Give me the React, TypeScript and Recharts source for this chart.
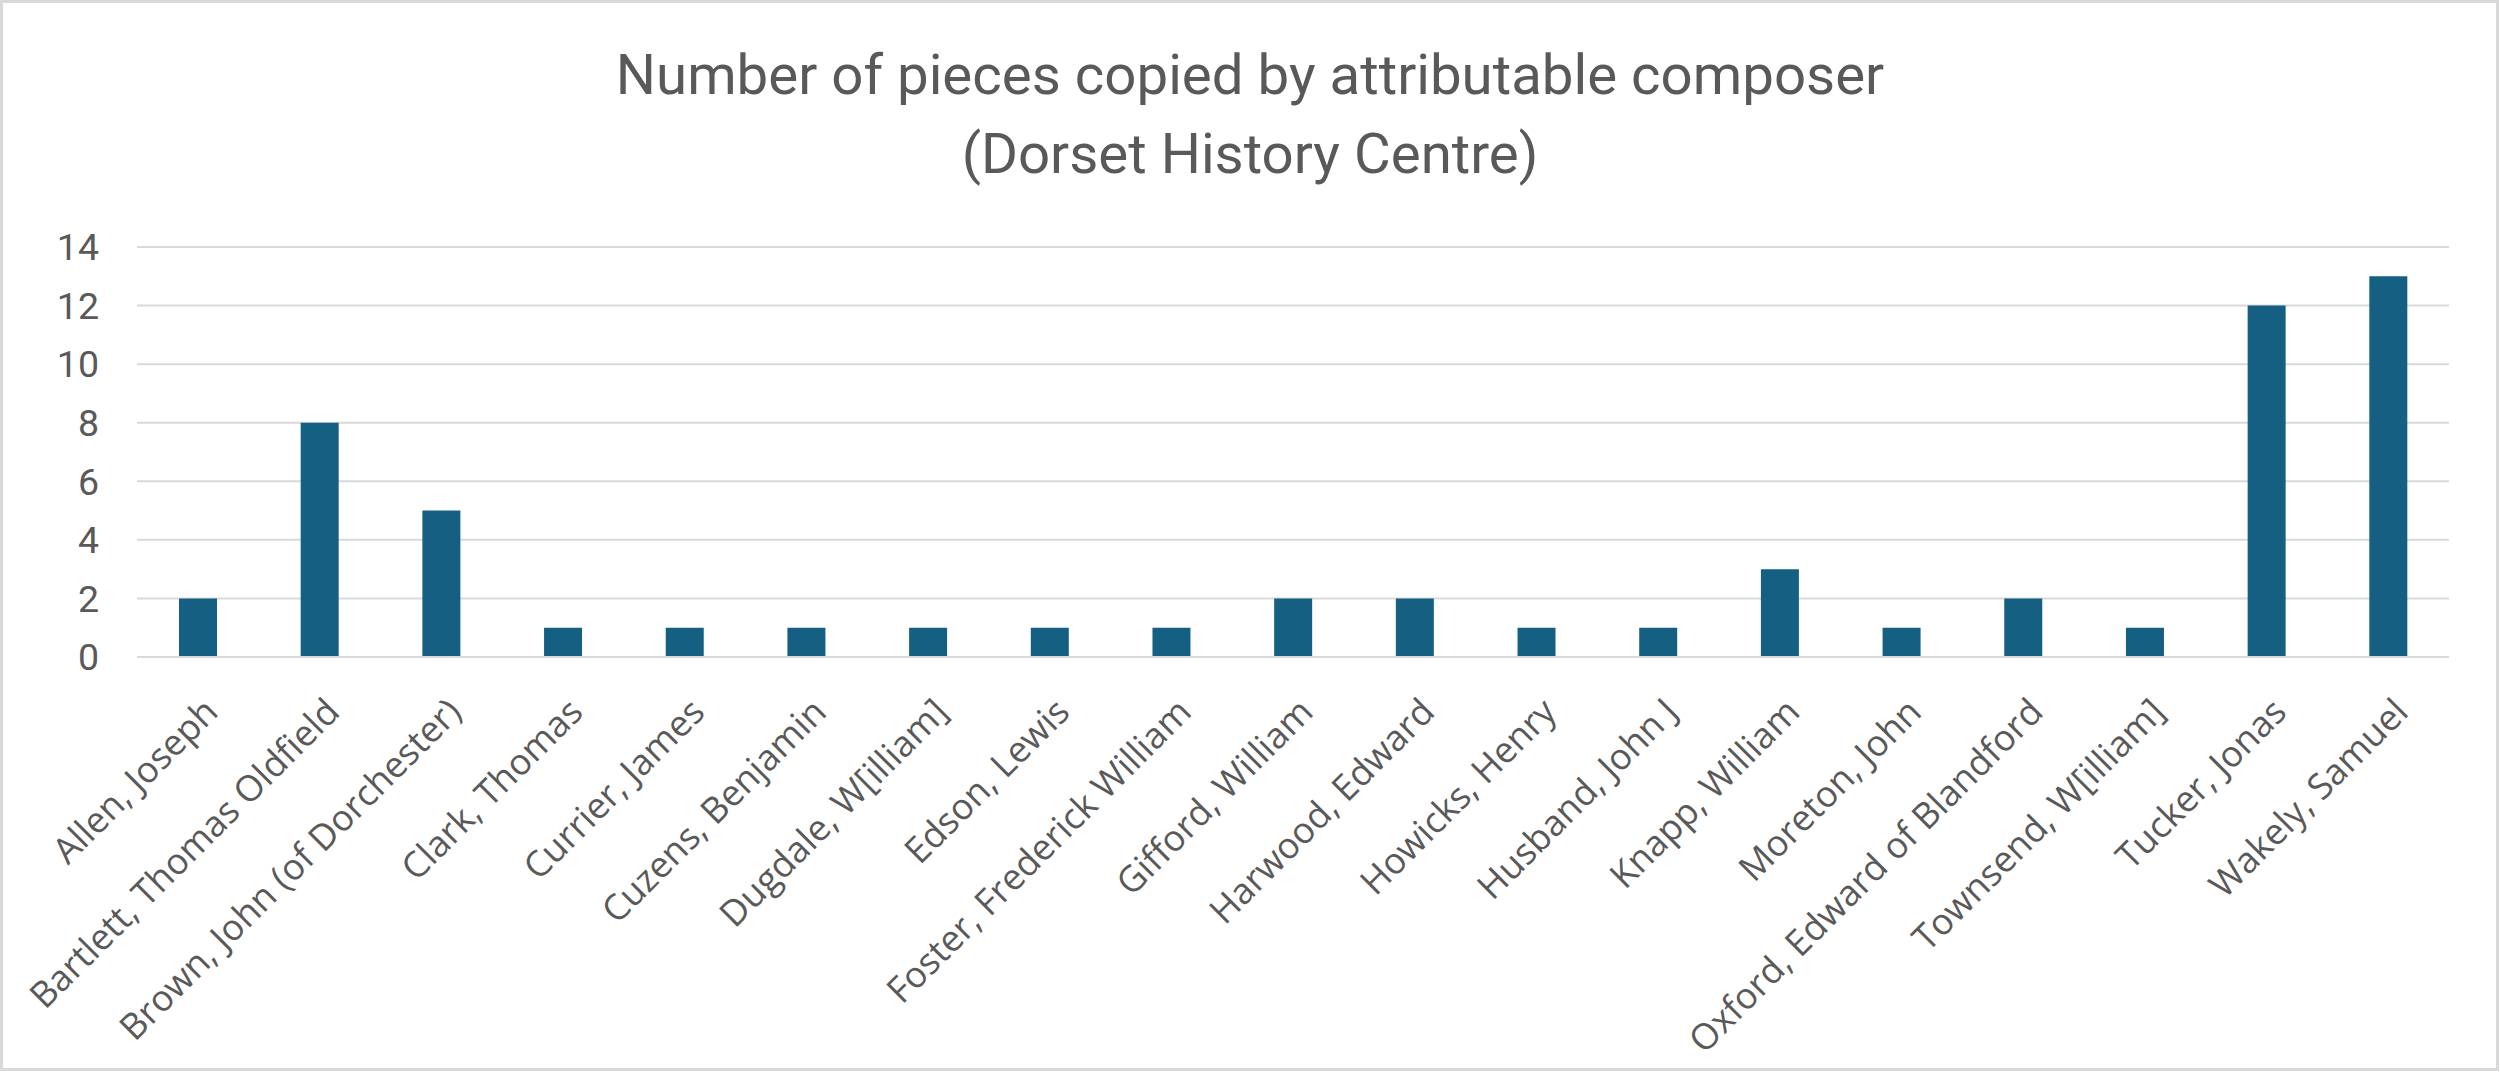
import React from "react";
import { BarChart, Bar, XAxis, YAxis, CartesianGrid } from "recharts";

const composers: string[] = [
  "Allen, Joseph",
  "Bartlett, Thomas Oldfield",
  "Brown, John (of Dorchester)",
  "Clark, Thomas",
  "Currier, James",
  "Cuzens, Benjamin",
  "Dugdale, W[illiam]",
  "Edson, Lewis",
  "Foster, Frederick William",
  "Gifford, William",
  "Harwood, Edward",
  "Howicks, Henry",
  "Husband, John J",
  "Knapp, William",
  "Moreton, John",
  "Oxford, Edward of Blandford",
  "Townsend, W[illiam]",
  "Tucker, Jonas",
  "Wakely, Samuel",
];

const pieces: number[] = [2, 8, 5, 1, 1, 1, 1, 1, 1, 2, 2, 1, 1, 3, 1, 2, 1, 12, 13];

const yTicks: number[] = [0, 2, 4, 6, 8, 10, 12, 14];

const titleLines: string[] = [
  "Number of pieces copied by attributable composer",
  "(Dorset History Centre)",
];

const data = composers.map((name, i) => ({ name, value: pieces[i] }));

const TEXT = "#595959";
const GRID = "#d9d9d9";
const BAR = "#156082";

const XTick = (props: any) => {
  const { x, y, payload } = props;
  const ax = x + 22;
  const ay = y + 49;
  return (
    <text
      x={ax}
      y={ay}
      transform={`rotate(-45, ${ax}, ${ay})`}
      textAnchor="end"
      fill={TEXT}
      fontFamily="'Open Sans', sans-serif"
      fontSize={36}
    >
      {payload.value}
    </text>
  );
};

export default function App() {
  return (
    <div
      style={{
        position: "absolute",
        left: 0,
        top: 0,
        width: 2500,
        height: 1072,
        background: "#ffffff",
      }}
    >
      <div
        style={{
          position: "absolute",
          left: 0,
          top: 0,
          width: 2499,
          height: 1071,
          boxSizing: "border-box",
          border: `3px solid ${GRID}`,
        }}
      />
      <svg
        width={2500}
        height={200}
        style={{ position: "absolute", left: 0, top: 0 }}
      >
        {titleLines.map((t, i) => (
          <text
            key={i}
            x={1250}
            y={94 + i * 79}
            textAnchor="middle"
            fill={TEXT}
            fontFamily="Roboto, sans-serif"
            fontSize={56.4}
          >
            {t}
          </text>
        ))}
      </svg>
      <div style={{ position: "absolute", left: 0, top: 0 }}>
        <BarChart
          width={2500}
          height={1072}
          data={data}
          margin={{ top: 247, right: 51, bottom: 0, left: 0 }}
        >
          <CartesianGrid
            vertical={false}
            stroke={GRID}
            strokeWidth={2}
          />
          <XAxis
            dataKey="name"
            interval={0}
            height={415}
            tickLine={false}
            axisLine={{ stroke: GRID, strokeWidth: 2 }}
            tick={<XTick />}
          />
          <YAxis
            width={137}
            domain={[0, 14]}
            ticks={yTicks}
            axisLine={false}
            tickLine={false}
            tickMargin={32}
            tick={{ fill: TEXT, fontSize: 37.5, fontFamily: "Roboto, sans-serif" }}
          />
          <Bar
            dataKey="value"
            fill={BAR}
            barSize={38}
            isAnimationActive={false}
          />
        </BarChart>
      </div>
    </div>
  );
}
